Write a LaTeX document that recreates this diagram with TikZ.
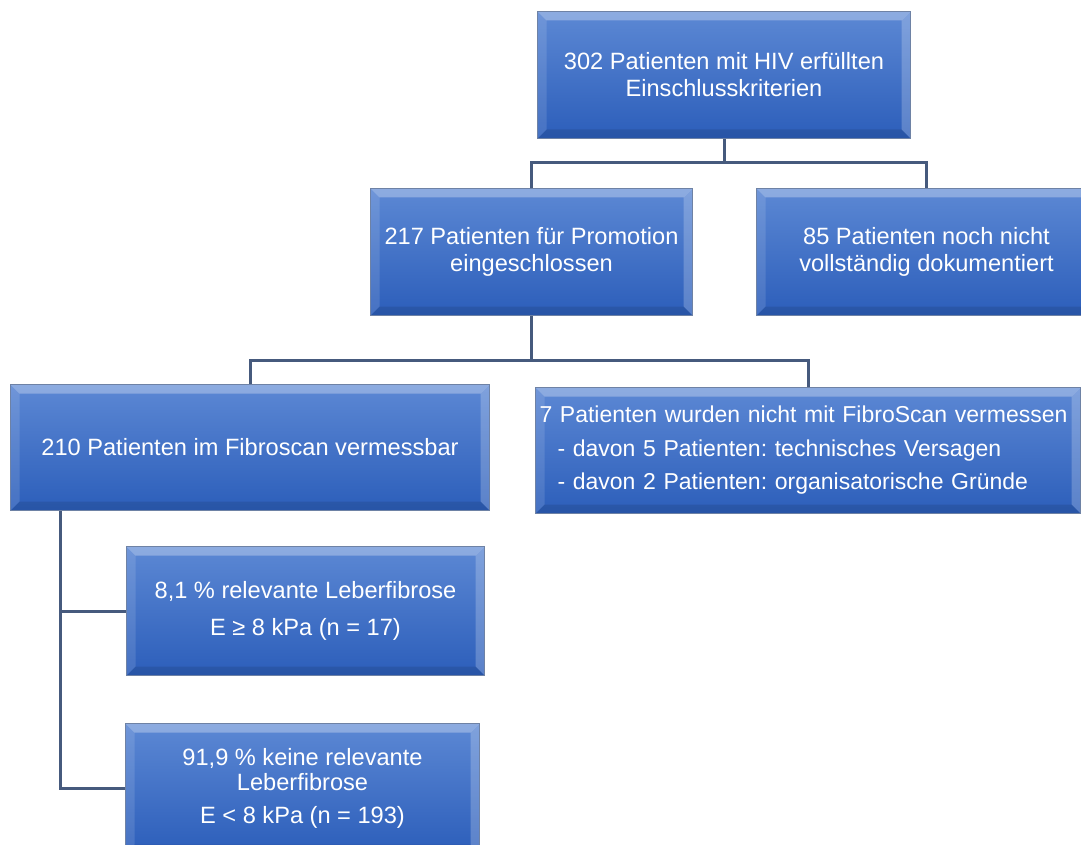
\documentclass[tikz,border=0pt]{standalone}
\usepackage{fontspec}
\setmainfont{Liberation Sans}
\usetikzlibrary{calc,backgrounds}
\frenchspacing
\definecolor{boxtop}{RGB}{92,136,212}
\definecolor{boxbot}{RGB}{44,94,186}
\definecolor{boxedge}{RGB}{110,130,165}
\definecolor{conn}{RGB}{70,90,125}
\tikzset{
  fbox/.style={rectangle, anchor=north west, draw=boxedge, line width=1pt,
    top color=boxtop, bottom color=boxbot, text=white,
    font=\fontsize{23.6}{27}\selectfont, align=center, inner sep=3pt,
    path picture={
      \path (path picture bounding box.north west) coordinate (pNW)
            (path picture bounding box.south east) coordinate (pSE);
      \fill[white,opacity=.30] (pNW) -- (pNW -| pSE) -- ++(-9pt,-9pt) -- ($(pNW)+(9pt,-9pt)$) -- cycle;
      \fill[white,opacity=.12] (pNW) -- (pNW |- pSE) -- ++(9pt,9pt) -- ($(pNW)+(9pt,-9pt)$) -- cycle;
      \fill[white,opacity=.22] (pNW -| pSE) -- (pSE) -- ++(-9pt,9pt) -- ($(pNW -| pSE)+(-9pt,-9pt)$) -- cycle;
      \fill[black,opacity=.10] (pNW |- pSE) -- (pSE) -- ++(-9pt,9pt) -- ($(pNW |- pSE)+(9pt,9pt)$) -- cycle;
    }},
  link/.style={draw=conn, line width=3pt}
}
\begin{document}
\begin{tikzpicture}[x=1pt,y=-1pt]
\useasboundingbox (0,0) rectangle (1081,845);
\clip (0,0) rectangle (1081,845);
\node[fbox, minimum width=373pt, minimum height=127pt] (top) at (537,11)
  {302 Patienten mit HIV erfüllten\\Einschlusskriterien};
\node[fbox, minimum width=322pt, minimum height=127pt] (n217) at (370,188)
  {217 Patienten für Promotion\\eingeschlossen};
\node[fbox, minimum width=340pt, minimum height=127pt] (n85) at (756,188)
  {85 Patienten noch nicht\\vollständig dokumentiert};
\node[fbox, minimum width=479pt, minimum height=126pt] (n210) at (10,384)
  {210 Patienten im Fibroscan vermessbar};
\node[fbox, text width=537pt, inner xsep=4pt, minimum height=126pt, align=left,
      font=\fontsize{23}{27}\selectfont] (n7) at (535,387)
  {\hyphenpenalty=10000\relax
   7 Patienten wurden nicht mit FibroScan vermessen\\[7pt]
   \hspace*{18pt}- davon 5 Patienten: technisches Versagen\\[6pt]
   \hspace*{18pt}- davon 2 Patienten: organisatorische Gründe};
\node[fbox, minimum width=358pt, minimum height=129pt] (n81) at (126,546)
  {8,1 \% relevante Leberfibrose\\[10pt]E ≥ 8 kPa (n = 17)};
\node[fbox, minimum width=354pt, minimum height=130pt] (n919) at (125,723)
  {91,9 \% keine relevante\\[-2pt]Leberfibrose\\[6pt]E < 8 kPa (n = 193)};
\coordinate (d) at (60,510);
\begin{scope}[on background layer]
\draw[link] (top.south) -- ++(0,24) -| (n217.north);
\draw[link] (top.south) -- ++(0,24) -| (n85.north);
\draw[link] (n217.south) -- ++(0,44) -| (n210.north);
\draw[link] (n217.south) -- ++(0,44) -| (n7.north);
\draw[link] (d) |- (n81.west);
\draw[link] (d) |- (n919.west);
\end{scope}
\end{tikzpicture}
\end{document}
